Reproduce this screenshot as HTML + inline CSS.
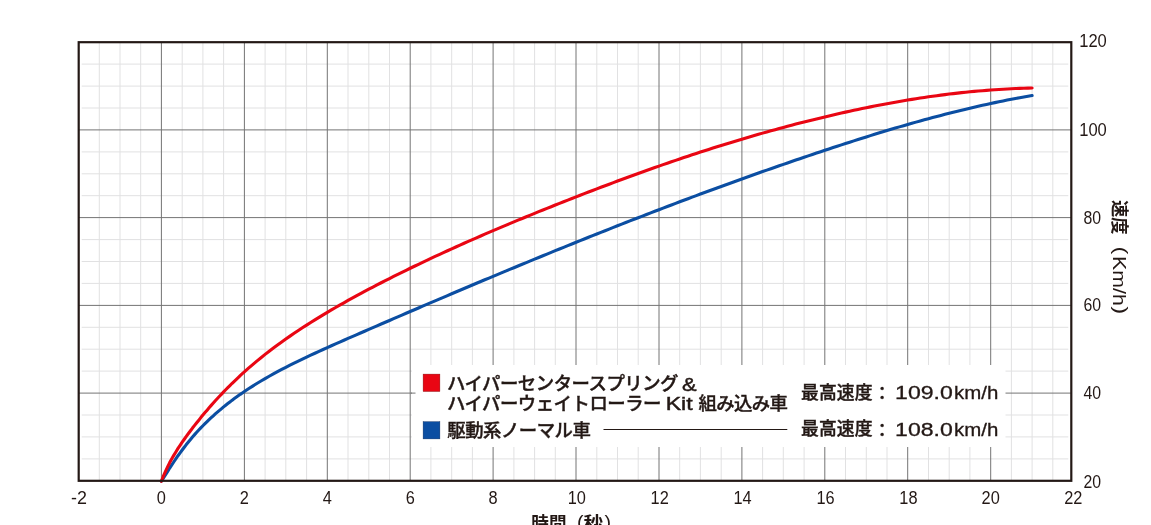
<!DOCTYPE html>
<html lang="ja"><head><meta charset="utf-8"><title>加速グラフ</title>
<style>
html,body{margin:0;padding:0;background:#fff;}
body{width:1151px;height:525px;overflow:hidden;}
svg{display:block;}
text{font-family:"Liberation Sans","Noto Sans CJK JP",sans-serif;fill:#231815;}
.jp{font-family:"Liberation Sans","Noto Sans CJK JP",sans-serif;font-weight:500;stroke:#231815;stroke-width:.4px;}
.lt{font-family:"Liberation Sans","Noto Sans CJK JP",sans-serif;stroke:#231815;stroke-width:.45px;}
</style></head><body>
<svg width="1151" height="525" viewBox="0 0 1151 525">
<rect width="1151" height="525" fill="#fff"/>
<g stroke="#e1e1e2" stroke-width="1"><line x1="99.3" y1="42.2" x2="99.3" y2="480.8"/><line x1="120.0" y1="42.2" x2="120.0" y2="480.8"/><line x1="140.7" y1="42.2" x2="140.7" y2="480.8"/><line x1="182.2" y1="42.2" x2="182.2" y2="480.8"/><line x1="202.9" y1="42.2" x2="202.9" y2="480.8"/><line x1="223.6" y1="42.2" x2="223.6" y2="480.8"/><line x1="265.1" y1="42.2" x2="265.1" y2="480.8"/><line x1="285.8" y1="42.2" x2="285.8" y2="480.8"/><line x1="306.6" y1="42.2" x2="306.6" y2="480.8"/><line x1="348.0" y1="42.2" x2="348.0" y2="480.8"/><line x1="368.8" y1="42.2" x2="368.8" y2="480.8"/><line x1="389.5" y1="42.2" x2="389.5" y2="480.8"/><line x1="430.9" y1="42.2" x2="430.9" y2="480.8"/><line x1="451.7" y1="42.2" x2="451.7" y2="480.8"/><line x1="472.4" y1="42.2" x2="472.4" y2="480.8"/><line x1="513.9" y1="42.2" x2="513.9" y2="480.8"/><line x1="534.6" y1="42.2" x2="534.6" y2="480.8"/><line x1="555.3" y1="42.2" x2="555.3" y2="480.8"/><line x1="596.8" y1="42.2" x2="596.8" y2="480.8"/><line x1="617.5" y1="42.2" x2="617.5" y2="480.8"/><line x1="638.2" y1="42.2" x2="638.2" y2="480.8"/><line x1="679.7" y1="42.2" x2="679.7" y2="480.8"/><line x1="700.4" y1="42.2" x2="700.4" y2="480.8"/><line x1="721.2" y1="42.2" x2="721.2" y2="480.8"/><line x1="762.6" y1="42.2" x2="762.6" y2="480.8"/><line x1="783.3" y1="42.2" x2="783.3" y2="480.8"/><line x1="804.1" y1="42.2" x2="804.1" y2="480.8"/><line x1="845.5" y1="42.2" x2="845.5" y2="480.8"/><line x1="866.3" y1="42.2" x2="866.3" y2="480.8"/><line x1="887.0" y1="42.2" x2="887.0" y2="480.8"/><line x1="928.5" y1="42.2" x2="928.5" y2="480.8"/><line x1="949.2" y1="42.2" x2="949.2" y2="480.8"/><line x1="969.9" y1="42.2" x2="969.9" y2="480.8"/><line x1="1011.4" y1="42.2" x2="1011.4" y2="480.8"/><line x1="1032.1" y1="42.2" x2="1032.1" y2="480.8"/><line x1="1052.8" y1="42.2" x2="1052.8" y2="480.8"/><line x1="81.7" y1="458.9" x2="1068.3" y2="458.9"/><line x1="81.7" y1="436.9" x2="1068.3" y2="436.9"/><line x1="81.7" y1="415.0" x2="1068.3" y2="415.0"/><line x1="81.7" y1="371.1" x2="1068.3" y2="371.1"/><line x1="81.7" y1="349.2" x2="1068.3" y2="349.2"/><line x1="81.7" y1="327.3" x2="1068.3" y2="327.3"/><line x1="81.7" y1="283.4" x2="1068.3" y2="283.4"/><line x1="81.7" y1="261.5" x2="1068.3" y2="261.5"/><line x1="81.7" y1="239.6" x2="1068.3" y2="239.6"/><line x1="81.7" y1="195.7" x2="1068.3" y2="195.7"/><line x1="81.7" y1="173.8" x2="1068.3" y2="173.8"/><line x1="81.7" y1="151.9" x2="1068.3" y2="151.9"/><line x1="81.7" y1="108.0" x2="1068.3" y2="108.0"/><line x1="81.7" y1="86.1" x2="1068.3" y2="86.1"/><line x1="81.7" y1="64.1" x2="1068.3" y2="64.1"/></g>
<g stroke="#747474" stroke-width="1"><line x1="161.4" y1="42.2" x2="161.4" y2="480.8"/><line x1="244.4" y1="42.2" x2="244.4" y2="480.8"/><line x1="327.3" y1="42.2" x2="327.3" y2="480.8"/><line x1="410.2" y1="42.2" x2="410.2" y2="480.8"/><line x1="493.1" y1="42.2" x2="493.1" y2="480.8"/><line x1="576.0" y1="42.2" x2="576.0" y2="480.8"/><line x1="659.0" y1="42.2" x2="659.0" y2="480.8"/><line x1="741.9" y1="42.2" x2="741.9" y2="480.8"/><line x1="824.8" y1="42.2" x2="824.8" y2="480.8"/><line x1="907.7" y1="42.2" x2="907.7" y2="480.8"/><line x1="990.7" y1="42.2" x2="990.7" y2="480.8"/><line x1="78.7" y1="393.1" x2="1071.3" y2="393.1"/><line x1="78.7" y1="305.4" x2="1071.3" y2="305.4"/><line x1="78.7" y1="217.6" x2="1071.3" y2="217.6"/><line x1="78.7" y1="129.9" x2="1071.3" y2="129.9"/></g>
<rect x="412" y="365" width="593.5" height="82" fill="#fff"/>
<line x1="411" y1="393.1" x2="415.5" y2="393.1" stroke="#747474" stroke-width="1"/>
<path d="M161.4 481.30 L163.5 477.95 L165.6 474.61 L167.7 471.31 L169.7 468.06 L171.8 464.87 L173.9 461.75 L176.0 458.70 L178.0 455.72 L180.1 452.81 L182.2 449.99 L184.3 447.23 L186.3 444.56 L188.4 441.96 L190.5 439.43 L192.5 436.99 L194.6 434.61 L196.7 432.30 L198.8 430.05 L200.8 427.86 L202.9 425.73 L205.0 423.65 L207.1 421.61 L209.1 419.63 L211.2 417.69 L213.3 415.79 L215.3 413.94 L217.4 412.12 L219.5 410.35 L221.6 408.60 L223.6 406.90 L225.7 405.22 L227.8 403.58 L229.9 401.98 L231.9 400.40 L234.0 398.85 L236.1 397.33 L238.2 395.83 L240.2 394.36 L242.3 392.92 L244.4 391.51 L248.5 388.75 L252.7 386.08 L256.8 383.50 L261.0 381.00 L265.1 378.58 L269.2 376.22 L273.4 373.92 L277.5 371.68 L281.7 369.48 L285.8 367.33 L290.0 365.23 L294.1 363.16 L298.3 361.12 L302.4 359.12 L306.6 357.14 L310.7 355.19 L314.9 353.27 L319.0 351.36 L323.1 349.47 L327.3 347.60 L331.4 345.75 L335.6 343.90 L339.7 342.07 L343.9 340.24 L348.0 338.43 L352.2 336.62 L356.3 334.81 L360.5 333.01 L364.6 331.21 L368.8 329.42 L372.9 327.62 L377.0 325.83 L381.2 324.03 L385.3 322.24 L389.5 320.45 L393.6 318.66 L397.8 316.87 L401.9 315.09 L406.1 313.30 L410.2 311.52 L414.4 309.74 L418.5 307.96 L422.6 306.18 L426.8 304.41 L430.9 302.63 L435.1 300.86 L439.2 299.09 L443.4 297.33 L447.5 295.56 L451.7 293.80 L455.8 292.04 L460.0 290.29 L464.1 288.53 L468.3 286.78 L472.4 285.03 L476.5 283.29 L480.7 281.54 L484.8 279.80 L489.0 278.07 L493.1 276.33 L497.3 274.60 L501.4 272.87 L505.6 271.15 L509.7 269.43 L513.9 267.71 L518.0 265.99 L522.2 264.28 L526.3 262.57 L530.4 260.86 L534.6 259.16 L538.7 257.46 L542.9 255.76 L547.0 254.07 L551.2 252.38 L555.3 250.69 L559.5 249.01 L563.6 247.32 L567.8 245.65 L571.9 243.97 L576.1 242.30 L580.2 240.64 L584.3 238.97 L588.5 237.31 L592.6 235.66 L596.8 234.00 L600.9 232.35 L605.1 230.71 L609.2 229.07 L613.4 227.43 L617.5 225.80 L621.7 224.17 L625.8 222.54 L629.9 220.92 L634.1 219.30 L638.2 217.69 L642.4 216.08 L646.5 214.48 L650.7 212.88 L654.8 211.29 L659.0 209.70 L663.1 208.11 L667.3 206.53 L671.4 204.96 L675.6 203.39 L679.7 201.82 L683.8 200.26 L688.0 198.70 L692.1 197.15 L696.3 195.61 L700.4 194.07 L704.6 192.53 L708.7 191.00 L712.9 189.47 L717.0 187.95 L721.2 186.44 L725.3 184.93 L729.5 183.42 L733.6 181.92 L737.7 180.43 L741.9 178.94 L746.0 177.46 L750.2 175.98 L754.3 174.51 L758.5 173.04 L762.6 171.58 L766.8 170.12 L770.9 168.67 L775.1 167.22 L779.2 165.78 L783.4 164.35 L787.5 162.92 L791.6 161.50 L795.8 160.08 L799.9 158.67 L804.1 157.26 L808.2 155.86 L812.4 154.47 L816.5 153.08 L820.7 151.70 L824.8 150.32 L829.0 148.95 L833.1 147.59 L837.2 146.23 L841.4 144.87 L845.5 143.53 L849.7 142.19 L853.8 140.87 L858.0 139.54 L862.1 138.23 L866.3 136.93 L870.4 135.64 L874.6 134.35 L878.7 133.08 L882.9 131.82 L887.0 130.57 L891.1 129.32 L895.3 128.09 L899.4 126.88 L903.6 125.67 L907.7 124.47 L911.9 123.29 L916.0 122.12 L920.2 120.97 L924.3 119.82 L928.5 118.69 L932.6 117.58 L936.8 116.47 L940.9 115.39 L945.0 114.31 L949.2 113.25 L953.3 112.21 L957.5 111.18 L961.6 110.17 L965.8 109.17 L969.9 108.19 L974.1 107.22 L978.2 106.27 L982.4 105.34 L986.5 104.42 L990.7 103.52 L994.8 102.64 L998.9 101.77 L1003.1 100.93 L1007.2 100.10 L1011.4 99.28 L1015.5 98.49 L1019.7 97.71 L1023.8 96.96 L1028.0 96.22 L1032.1 95.50" fill="none" stroke="#0b4ea2" stroke-width="3.1" stroke-linecap="round" stroke-linejoin="round"/>
<path d="M161.4 481.30 L163.5 475.91 L165.6 471.07 L167.7 466.65 L169.7 462.57 L171.8 458.75 L173.9 455.14 L176.0 451.71 L178.0 448.43 L180.1 445.27 L182.2 442.22 L184.3 439.26 L186.3 436.37 L188.4 433.55 L190.5 430.78 L192.5 428.05 L194.6 425.37 L196.7 422.74 L198.8 420.15 L200.8 417.59 L202.9 415.08 L205.0 412.60 L207.1 410.16 L209.1 407.76 L211.2 405.40 L213.3 403.06 L215.3 400.77 L217.4 398.50 L219.5 396.27 L221.6 394.07 L223.6 391.90 L225.7 389.76 L227.8 387.66 L229.9 385.58 L231.9 383.53 L234.0 381.51 L236.1 379.52 L238.2 377.56 L240.2 375.62 L242.3 373.71 L244.4 371.83 L248.5 368.15 L252.7 364.57 L256.8 361.09 L261.0 357.70 L265.1 354.40 L269.2 351.18 L273.4 348.04 L277.5 344.97 L281.7 341.96 L285.8 339.02 L290.0 336.14 L294.1 333.31 L298.3 330.54 L302.4 327.82 L306.6 325.14 L310.7 322.51 L314.9 319.92 L319.0 317.37 L323.1 314.85 L327.3 312.38 L331.4 309.93 L335.6 307.52 L339.7 305.15 L343.9 302.80 L348.0 300.47 L352.2 298.18 L356.3 295.91 L360.5 293.66 L364.6 291.44 L368.8 289.23 L372.9 287.05 L377.0 284.89 L381.2 282.75 L385.3 280.63 L389.5 278.52 L393.6 276.44 L397.8 274.37 L401.9 272.32 L406.1 270.28 L410.2 268.26 L414.4 266.26 L418.5 264.27 L422.6 262.29 L426.8 260.33 L430.9 258.39 L435.1 256.45 L439.2 254.53 L443.4 252.63 L447.5 250.73 L451.7 248.85 L455.8 246.98 L460.0 245.12 L464.1 243.27 L468.3 241.44 L472.4 239.61 L476.5 237.80 L480.7 235.99 L484.8 234.20 L489.0 232.41 L493.1 230.64 L497.3 228.87 L501.4 227.12 L505.6 225.37 L509.7 223.63 L513.9 221.90 L518.0 220.18 L522.2 218.47 L526.3 216.76 L530.4 215.06 L534.6 213.38 L538.7 211.69 L542.9 210.02 L547.0 208.35 L551.2 206.69 L555.3 205.04 L559.5 203.40 L563.6 201.76 L567.8 200.13 L571.9 198.50 L576.1 196.88 L580.2 195.27 L584.3 193.66 L588.5 192.06 L592.6 190.47 L596.8 188.89 L600.9 187.31 L605.1 185.74 L609.2 184.18 L613.4 182.62 L617.5 181.07 L621.7 179.54 L625.8 178.01 L629.9 176.49 L634.1 174.97 L638.2 173.47 L642.4 171.97 L646.5 170.49 L650.7 169.01 L654.8 167.55 L659.0 166.09 L663.1 164.64 L667.3 163.21 L671.4 161.78 L675.6 160.36 L679.7 158.96 L683.8 157.56 L688.0 156.17 L692.1 154.80 L696.3 153.43 L700.4 152.08 L704.6 150.74 L708.7 149.41 L712.9 148.09 L717.0 146.78 L721.2 145.48 L725.3 144.19 L729.5 142.92 L733.6 141.65 L737.7 140.40 L741.9 139.16 L746.0 137.93 L750.2 136.71 L754.3 135.51 L758.5 134.31 L762.6 133.13 L766.8 131.96 L770.9 130.80 L775.1 129.66 L779.2 128.53 L783.4 127.41 L787.5 126.30 L791.6 125.20 L795.8 124.12 L799.9 123.05 L804.1 121.99 L808.2 120.95 L812.4 119.91 L816.5 118.89 L820.7 117.89 L824.8 116.89 L829.0 115.91 L833.1 114.94 L837.2 113.99 L841.4 113.05 L845.5 112.12 L849.7 111.21 L853.8 110.31 L858.0 109.42 L862.1 108.55 L866.3 107.70 L870.4 106.86 L874.6 106.04 L878.7 105.23 L882.9 104.44 L887.0 103.66 L891.1 102.90 L895.3 102.16 L899.4 101.43 L903.6 100.72 L907.7 100.03 L911.9 99.35 L916.0 98.70 L920.2 98.06 L924.3 97.43 L928.5 96.83 L932.6 96.24 L936.8 95.68 L940.9 95.13 L945.0 94.59 L949.2 94.08 L953.3 93.59 L957.5 93.11 L961.6 92.66 L965.8 92.22 L969.9 91.81 L974.1 91.41 L978.2 91.03 L982.4 90.67 L986.5 90.34 L990.7 90.02 L994.8 89.72 L998.9 89.45 L1003.1 89.19 L1007.2 88.95 L1011.4 88.74 L1015.5 88.54 L1019.7 88.37 L1023.8 88.22 L1028.0 88.09 L1032.1 87.98" fill="none" stroke="#e90613" stroke-width="3.1" stroke-linecap="round" stroke-linejoin="round"/>
<rect x="78.7" y="42.2" width="992.6" height="438.6" fill="none" stroke="#231815" stroke-width="2.2"/>
<text x="78.9" y="503.6" font-size="18" text-anchor="middle" textLength="15.9" lengthAdjust="spacingAndGlyphs">-2</text>
<text x="161.4" y="503.6" font-size="18" text-anchor="middle" textLength="9.1" lengthAdjust="spacingAndGlyphs">0</text>
<text x="244.4" y="503.6" font-size="18" text-anchor="middle" textLength="9.1" lengthAdjust="spacingAndGlyphs">2</text>
<text x="327.3" y="503.6" font-size="18" text-anchor="middle" textLength="9.1" lengthAdjust="spacingAndGlyphs">4</text>
<text x="410.2" y="503.6" font-size="18" text-anchor="middle" textLength="9.1" lengthAdjust="spacingAndGlyphs">6</text>
<text x="493.1" y="503.6" font-size="18" text-anchor="middle" textLength="9.1" lengthAdjust="spacingAndGlyphs">8</text>
<text x="576.8" y="503.6" font-size="18" text-anchor="middle" textLength="18.2" lengthAdjust="spacingAndGlyphs">10</text>
<text x="659.7" y="503.6" font-size="18" text-anchor="middle" textLength="18.2" lengthAdjust="spacingAndGlyphs">12</text>
<text x="742.6" y="503.6" font-size="18" text-anchor="middle" textLength="18.2" lengthAdjust="spacingAndGlyphs">14</text>
<text x="825.5" y="503.6" font-size="18" text-anchor="middle" textLength="18.2" lengthAdjust="spacingAndGlyphs">16</text>
<text x="908.4" y="503.6" font-size="18" text-anchor="middle" textLength="18.2" lengthAdjust="spacingAndGlyphs">18</text>
<text x="990.7" y="503.6" font-size="18" text-anchor="middle" textLength="18.2" lengthAdjust="spacingAndGlyphs">20</text>
<text x="1073.3" y="503.6" font-size="18" text-anchor="middle" textLength="18.2" lengthAdjust="spacingAndGlyphs">22</text>
<text x="1083.4" y="487.8" font-size="18" textLength="17.6" lengthAdjust="spacingAndGlyphs">20</text>
<text x="1083.4" y="399.0" font-size="18" textLength="17.6" lengthAdjust="spacingAndGlyphs">40</text>
<text x="1083.4" y="311.3" font-size="18" textLength="17.6" lengthAdjust="spacingAndGlyphs">60</text>
<text x="1083.4" y="223.5" font-size="18" textLength="17.6" lengthAdjust="spacingAndGlyphs">80</text>
<text x="1079.2" y="135.8" font-size="18" textLength="27.6" lengthAdjust="spacingAndGlyphs">100</text>
<text x="1079.2" y="46.6" font-size="18" textLength="27.6" lengthAdjust="spacingAndGlyphs">120</text>
<text x="531.3" y="529.6" font-size="17.8" class="jp" textLength="35.2" lengthAdjust="spacingAndGlyphs" style="font-weight:700;stroke:none">時間</text>
<text x="576.9" y="528.2" font-size="18.5" textLength="6.6" lengthAdjust="spacingAndGlyphs">(</text>
<text x="583.5" y="529.6" font-size="18.4" class="jp" textLength="19.6" lengthAdjust="spacingAndGlyphs" style="font-weight:700;stroke:none">秒</text>
<text x="604.4" y="528.2" font-size="18.5" textLength="6.6" lengthAdjust="spacingAndGlyphs">)</text>
<g transform="translate(1112.6,200) rotate(90)"><text x="0.0" y="0.0" font-size="17.8" class="jp" textLength="34.6" lengthAdjust="spacingAndGlyphs" style="font-weight:700;stroke:none">速度</text>
<text x="46.6" y="-2.2" font-size="18.5" textLength="8.0" lengthAdjust="spacingAndGlyphs">(</text>
<text x="56.1" y="-0.2" font-size="19" textLength="49.8" lengthAdjust="spacingAndGlyphs">Km/h</text>
<text x="106.2" y="-2.2" font-size="18.5" textLength="8.0" lengthAdjust="spacingAndGlyphs">)</text>
</g>
<rect x="423.1" y="374.1" width="16.8" height="17.4" fill="#e90613" stroke="#7a1010" stroke-width=".4"/>
<rect x="423.1" y="421.7" width="16.8" height="17.2" fill="#0b4ea2" stroke="#0a2a5a" stroke-width=".4"/>
<text x="447.0" y="390.1" font-size="18.4" class="jp" textLength="231.5" lengthAdjust="spacing">ハイパーセンタースプリング</text>
<text x="682.0" y="390.7" font-size="18.6" class="lt" textLength="14.6" lengthAdjust="spacingAndGlyphs">&amp;</text>
<text x="447.0" y="410.0" font-size="18.4" class="jp" textLength="214.5" lengthAdjust="spacing">ハイパーウェイトローラー</text>
<text x="665.7" y="409.8" font-size="18.4" class="lt" textLength="27.0" lengthAdjust="spacingAndGlyphs">Kit</text>
<text x="698.4" y="410.0" font-size="18.4" class="jp" textLength="89.5" lengthAdjust="spacing">組み込み車</text>
<text x="447.3" y="436.8" font-size="18.4" class="jp" textLength="143.5" lengthAdjust="spacing">駆動系ノーマル車</text>
<line x1="603.5" y1="429.5" x2="787.3" y2="429.5" stroke="#231815" stroke-width="1"/>
<text x="801.0" y="398.6" font-size="17.8" class="jp" textLength="71.5" lengthAdjust="spacing">最高速度</text>
<text x="873.3" y="400.4" font-size="17.8" class="jp">：</text>
<text x="895.1" y="399.0" font-size="18" textLength="57.6" lengthAdjust="spacingAndGlyphs" style="stroke:#231815;stroke-width:.3px">109.0</text>
<text x="954.0" y="399.0" font-size="18" textLength="44.3" lengthAdjust="spacingAndGlyphs" style="stroke:#231815;stroke-width:.3px">km/h</text>
<text x="801.0" y="435.3" font-size="17.8" class="jp" textLength="71.5" lengthAdjust="spacing">最高速度</text>
<text x="873.3" y="437.1" font-size="17.8" class="jp">：</text>
<text x="895.1" y="435.7" font-size="18" textLength="57.6" lengthAdjust="spacingAndGlyphs" style="stroke:#231815;stroke-width:.3px">108.0</text>
<text x="954.0" y="435.7" font-size="18" textLength="44.3" lengthAdjust="spacingAndGlyphs" style="stroke:#231815;stroke-width:.3px">km/h</text>
</svg>
</body></html>
